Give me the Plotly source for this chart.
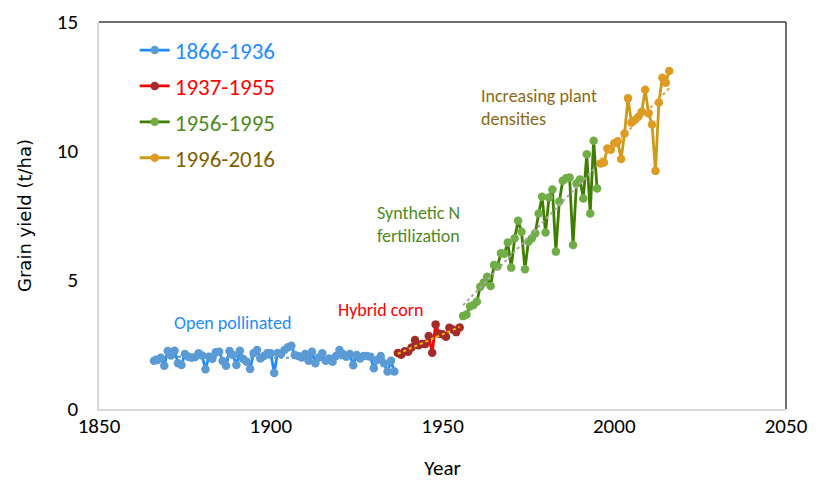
import numpy as np
import plotly.graph_objects as go

# ---------------- data ----------------
years_blue = list(range(1866, 1937))
yield_blue = [1.87, 1.90, 1.99, 1.68, 2.25, 2.07, 2.26, 1.77, 1.71, 2.13,
              2.03, 1.99, 2.02, 2.16, 2.07, 1.54, 2.03, 1.95, 2.20, 2.22,
              1.86, 1.68, 2.25, 2.09, 1.71, 2.26, 1.94, 1.83, 1.55, 2.16,
              2.29, 1.96, 2.05, 2.16, 2.16, 1.40, 2.17, 2.13, 2.29, 2.39,
              2.45, 2.09, 2.05, 2.00, 2.13, 1.87, 2.22, 1.77, 2.00, 2.16,
              1.87, 1.96, 1.83, 2.05, 2.29, 2.13, 2.03, 2.13, 1.70, 2.09,
              1.96, 2.05, 2.05, 2.03, 1.58, 1.90, 2.05, 1.77, 1.45, 1.87,
              1.45]

years_red = list(range(1937, 1956))
yield_red = [2.17, 2.10, 2.24, 2.22, 2.38, 2.67, 2.47, 2.52, 2.52, 2.83,
             2.18, 3.28, 2.92, 2.90, 2.80, 3.15, 3.08, 2.98, 3.16]

years_green = list(range(1956, 1996))
yield_green = [3.60, 3.66, 3.97, 4.03, 4.16, 4.74, 4.90, 5.13, 4.77, 5.58,
               5.52, 6.04, 6.02, 6.45, 5.48, 6.62, 7.30, 6.87, 5.42, 6.48,
               6.62, 6.81, 7.58, 8.23, 6.84, 8.20, 8.51, 6.10, 8.04, 8.85,
               8.94, 8.97, 6.36, 8.74, 8.90, 8.16, 9.87, 7.58, 10.40, 8.55]

years_orange = list(range(1996, 2017))
yield_orange = [9.52, 9.55, 10.10, 10.05, 10.30, 10.38, 9.69, 10.68, 12.04, 11.10,
                11.20, 11.33, 11.52, 12.37, 11.46, 11.03, 9.23, 11.88, 12.84, 12.65,
                13.10]

series_names = ["1866-1936", "1937-1955", "1956-1995", "1996-2016"]
x_ticks = [1850, 1900, 1950, 2000, 2050]
y_ticks = [0, 5, 10, 15]

# ---------------- styles ----------------
NARROW = "Carlito, 'Liberation Sans Narrow', 'DejaVu Sans Condensed', sans-serif"
styles = [
    dict(line="#1E8CFF", marker="#5B9BD5", text="#1E8CFF", trend="#5B9BD5"),
    dict(line="#FF0000", marker="#A52A2A", text="#FF0000", trend="#FFC000"),
    dict(line="#3F7F00", marker="#70AD47", text="#4E8A1E", trend="#A6A6A6"),
    dict(line="#CC9A16", marker="#DE9B22", text="#7F6000", trend="#E3A33A"),
]
data = [(years_blue, yield_blue), (years_red, yield_red),
        (years_green, yield_green), (years_orange, yield_orange)]

fig = go.Figure()
for i, ((xs, ys), st, nm) in enumerate(zip(data, styles, series_names)):
    fig.add_trace(go.Scatter(
        x=xs, y=ys, mode="lines+markers",
        name=f"<span style='color:{st['text']}'>{nm}</span>",
        legendgroup=f"g{i}",
        line=dict(color=st["line"], width=2.8),
        marker=dict(color=st["marker"], size=8.5),
    ))

# linear trend lines (computed from the series)
for (xs, ys), st in zip(data, styles):
    k, b = np.polyfit(xs, ys, 1)
    xe = [xs[0], xs[-1]]
    fig.add_trace(go.Scatter(
        x=xe, y=[k * v + b for v in xe], mode="lines", showlegend=False,
        hoverinfo="skip", line=dict(color=st["trend"], width=2, dash="dot"),
    ))

# annotations
ann_font = dict(family=NARROW, size=18)
fig.add_annotation(x=1889.0, y=3.33, text="Open pollinated", showarrow=False,
                   xanchor="center", font=dict(ann_font, color="#1E8CFF"))
fig.add_annotation(x=1932.0, y=3.83, text="Hybrid corn", showarrow=False,
                   xanchor="center", font=dict(ann_font, color="#FF0000"))
fig.add_annotation(x=1930.4, y=7.15, text="Synthetic N<br>fertilization", showarrow=False,
                   xanchor="left", align="left", font=dict(ann_font, color="#4E8A1E"))
fig.add_annotation(x=1960.7, y=11.67, text="Increasing plant<br>densities", showarrow=False,
                   xanchor="left", align="left", font=dict(ann_font, color="#8B6914"))

# top/right frame lines
fig.add_shape(type="line", xref="paper", yref="paper", x0=0, x1=1, y0=1, y1=1,
              line=dict(color="#404040", width=1.5))
fig.add_shape(type="line", xref="paper", yref="paper", x0=1, x1=1, y0=0, y1=1,
              line=dict(color="#404040", width=1.5))

# the page body has an 8px margin, so the figure is sized 8px smaller
fig.update_layout(
    width=808, height=475,
    margin=dict(l=91, r=30, t=14, b=74, autoexpand=False),
    paper_bgcolor="white", plot_bgcolor="white",
    font=dict(family=NARROW, size=21, color="#000000"),
    showlegend=True,
    legend=dict(x=0.052, y=0.983, xanchor="left", yanchor="top",
                bgcolor="rgba(0,0,0,0)", font=dict(family=NARROW, size=23),
                tracegroupgap=3, itemwidth=30),
    xaxis=dict(range=[1850, 2050], tickvals=x_ticks, ticktext=[str(v) for v in x_ticks],
               showgrid=False, zeroline=False, showline=True, linecolor="#D9D9D9",
               linewidth=1.5, ticks="", tickfont=dict(size=21), automargin=False,
               ticklabelstandoff=-3,
               title=dict(text="Year", font=dict(size=21), standoff=22)),
    yaxis=dict(range=[0, 15], tickvals=y_ticks, ticktext=[str(v) for v in y_ticks],
               showgrid=False, zeroline=False, showline=True, linecolor="#D9D9D9",
               linewidth=1.5, ticks="", tickfont=dict(size=21), ticklabelstandoff=15,
               automargin=False,
               title=dict(text="Grain yield (t/ha)",
                          font=dict(family="'DejaVu Sans', Verdana, sans-serif", size=18),
                          standoff=20)),
)

fig.write_html("out.html")
